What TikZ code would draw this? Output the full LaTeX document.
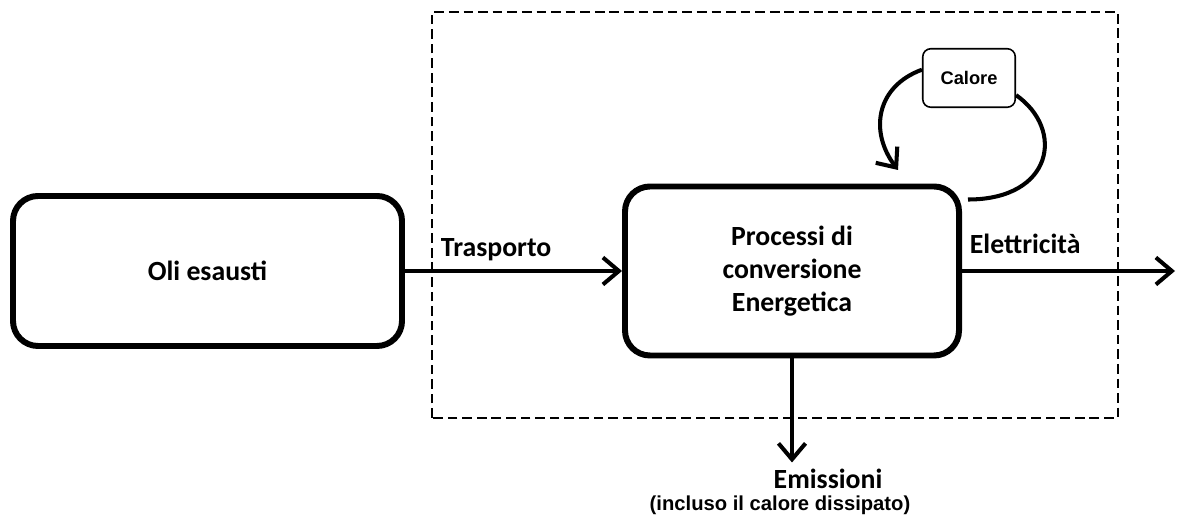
\documentclass[tikz,border=0pt]{standalone}
\usepackage{fontspec}
\setmainfont{Carlito}
\newfontfamily\arialfont{Liberation Sans}
\usetikzlibrary{arrows.meta,positioning,calc}

\begin{document}
\begin{tikzpicture}[>={Straight Barb[length=3.2mm,width=5.4mm]},
    font=\fontsize{15.8}{18.8}\selectfont\bfseries]
  \useasboundingbox (0,0) rectangle (23.56,10.54);
  \begin{scope}
    \begin{scope}[every node/.style={draw=black, line width=3.4pt, rounded corners=0.5cm, align=center}]
      \node[minimum width=7.78cm, minimum height=3cm] (oli) at (4.15,5.12) {Oli esausti};
      \node[minimum width=6.68cm, minimum height=3.38cm] (proc) at (15.84,5.12) {Processi di\\conversione\\Energetica};
    \end{scope}
    \node[draw=black, line width=0.9pt, rounded corners=0.16cm, minimum width=1.85cm, minimum height=1.17cm,
      font=\arialfont\fontsize{10.4}{12}\selectfont\bfseries] (cal) at (19.38,8.98) {Calore};
    \draw[line width=1.6pt, dash pattern=on 5.5pt off 2.8pt] (8.64,2.18) rectangle (22.36,10.30);
    \coordinate (elend) at (23.5,5.12);
    \coordinate (caltip) at (17.96,7.14);
    \coordinate (calend) at ($(proc.north east)+(0.12,-0.32)$);
    \begin{scope}[every path/.style={line width=2.3pt}]
      \draw[->] (oli) -- node[pos=0.42, above=1pt] {Trasporto} (proc);
      \draw[->] (proc) -- node[pos=0, above right, yshift=0.18cm] {Elettricit\`a} (elend);
      \draw[->] (proc.south) -- ++(0,-2.08) coordinate (emend);
      \draw[->] (cal.170) to[out=200, in=127, looseness=1.2] (caltip);
      \draw (cal.-20) to[out=-35, in=0, out distance=1.2cm, in distance=1.7cm] (calend);
    \end{scope}
    \node (emis) at ($(emend)+(0.72,-0.32)$) {Emissioni};
    \node[font=\arialfont\fontsize{11.5}{13}\selectfont\bfseries] (incl) at ($(emend)+(-0.24,-0.86)$) {(incluso il calore dissipato)};
  \end{scope}
\end{tikzpicture}
\end{document}
